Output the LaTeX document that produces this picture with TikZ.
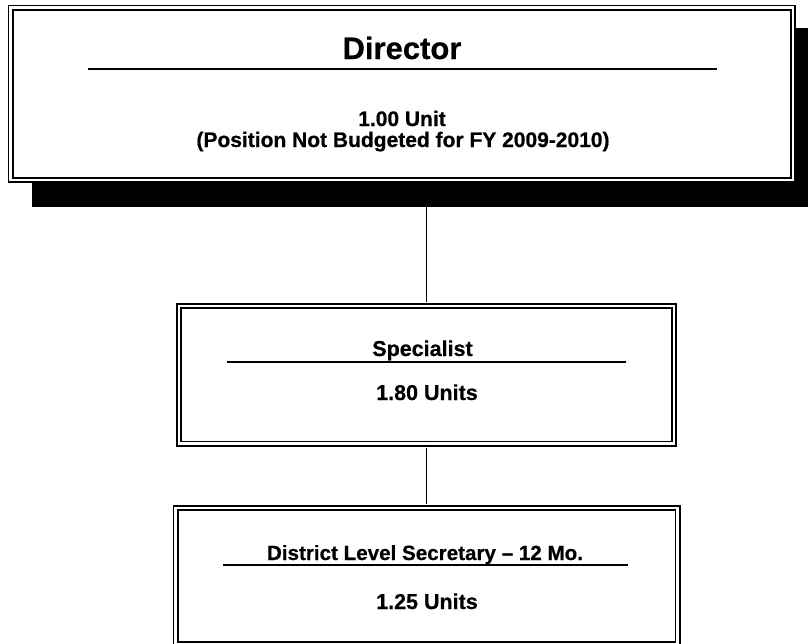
\documentclass[tikz,border=0pt]{standalone}
\usepackage{fontspec}
\setmainfont[BoldFeatures={FakeBold=0.6}]{Liberation Sans}
\begin{document}
\begin{tikzpicture}[x=1pt,y=-1pt,
  box/.style={rectangle, draw=black, double=white, double distance=2.2pt, line width=1.9pt, fill=white, inner sep=0pt},
  rule/.style={line width=2.2pt},
  link/.style={line width=1.9pt, shorten <=3.1pt, shorten >=3.1pt},
  big/.style={anchor=base, font=\fontsize{31}{31}\selectfont\bfseries},
  txt/.style={anchor=base, font=\fontsize{21.5}{21.5}\selectfont\bfseries},
  dtxt/.style={anchor=base, font=\fontsize{21}{21}\selectfont\bfseries}]
\useasboundingbox (0,0) rectangle (808,643);
\clip (0,0) rectangle (808,643);
% shadow and director box
\node[fill=black, inner sep=0pt, minimum width=787pt, minimum height=179pt] (shadow) at (425.5,117.5) {};
\node[box, minimum width=782.5pt, minimum height=172.5pt] (dir) at (401.75,93.75) {};
\node[big] (dirT) at (402,59) {Director};
\draw[rule] (88,69) -- (717,69);
\node[dtxt] (dirU) at (402,126) {1.00 Unit};
\node[dtxt] (dirN) at (403,147) {(Position Not Budgeted for FY 2009-2010)};
% specialist
\node[box, minimum width=495pt, minimum height=137.5pt] (spec) at (426.5,374.75) {};
\node[txt] (specT) at (422.5,356) {Specialist};
\draw[rule] (227,362) -- (626,362);
\node[txt] (specU) at (427,400) {1.80 Units};
% district secretary
\node[box, minimum width=502pt, minimum height=136pt] (dist) at (426.5,576) {};
\node[anchor=base, font=\fontsize{20.6}{20.6}\selectfont\bfseries] (distT) at (425,560) {District Level Secretary -- 12 Mo.};
\draw[rule] (223,565) -- (628,565);
\node[txt] (distU) at (427,609) {1.25 Units};
% connectors
\draw[line width=1.9pt, shorten >=3.1pt] (spec.north |- shadow.south) -- (spec.north);
\draw[link] (spec.south) -- (dist.north);
\end{tikzpicture}
\end{document}
